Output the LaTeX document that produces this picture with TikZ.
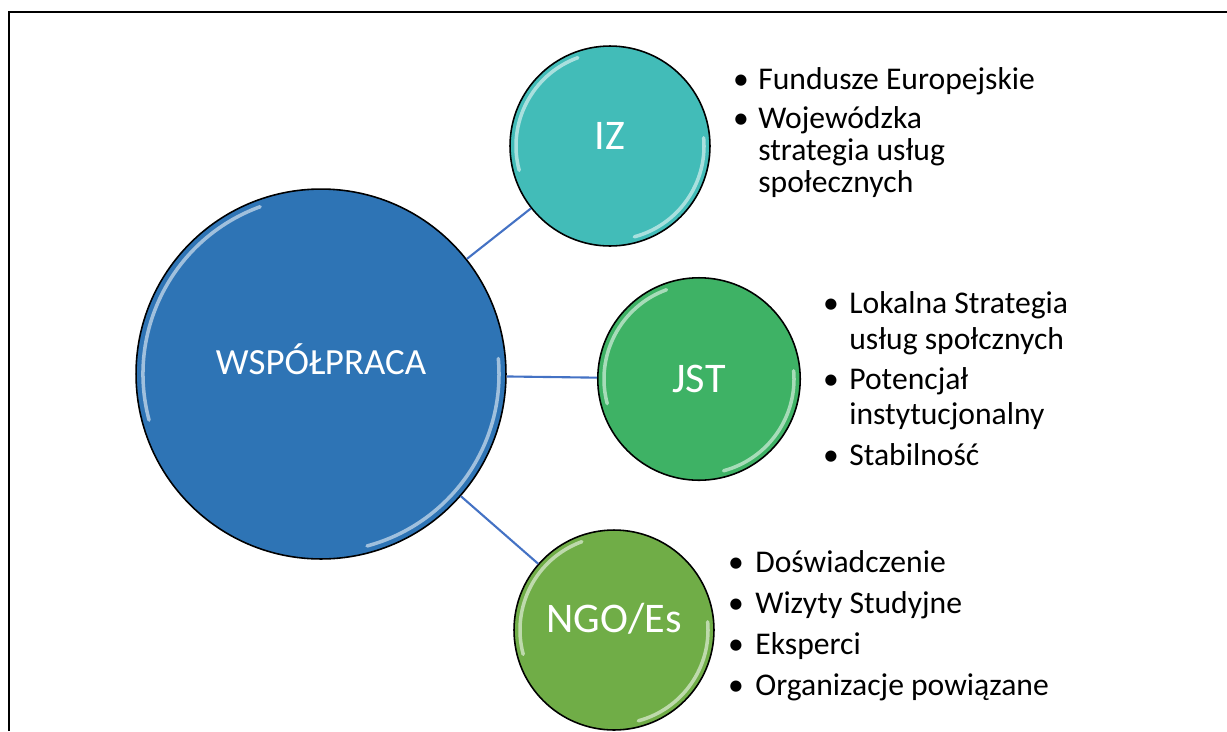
\documentclass[tikz,border=0pt]{standalone}
\usepackage{fontspec}
\setmainfont{Carlito}

\definecolor{wspBlue}{HTML}{2E74B5}
\definecolor{izTeal}{HTML}{42BCB8}
\definecolor{jstGreen}{HTML}{3EB265}
\definecolor{ngoGreen}{HTML}{70AD47}
\definecolor{lineBlue}{HTML}{4472C4}

\tikzset{
  kolo/.style={circle,draw=black,line width=0.9pt,inner sep=0pt},
  napis/.style={text=white,inner sep=0pt,font=\fontsize{24}{28}\selectfont},
  laczenie/.style={draw=lineBlue,line width=1.2pt},
  wiersz/.style={anchor=base west,inner sep=0pt,font=\fontsize{18}{22}\selectfont},
  kropka/.style={anchor=base,inner sep=0pt,font=\fontsize{18}{22}\selectfont},
  blask/.style={white,opacity=0.55,line width=2pt,line cap=round}
}

\begin{document}
\begin{tikzpicture}[x=0.02cm,y=-0.02cm]
\useasboundingbox (0,0) rectangle (1227,731);
\draw[line width=1.2pt] (9,731) -- (9,12) -- (1227,12);

% circles
\node[kolo,fill=wspBlue,minimum size=7.4cm,
  label={[napis,name=wspText,yshift=0.3cm,font=\fontsize{21}{25}\selectfont]center:WSPÓŁPRACA}]
  (wsp) at (321,374) {};
\node[kolo,fill=izTeal,minimum size=4cm,
  label={[napis,name=izText,yshift=0.2cm]center:IZ}] (iz) at (610,146) {};
\node[kolo,fill=jstGreen,minimum size=4.05cm,
  label={[napis,name=jstText]center:JST}] (jst) at (699,379) {};
\node[kolo,fill=ngoGreen,minimum size=4cm,
  label={[napis,name=ngoText,yshift=0.22cm]center:NGO/Es}] (ngo) at (614,630) {};

\draw[laczenie] (wsp) -- (iz);
\draw[laczenie] (wsp) -- (jst);
\draw[laczenie] (wsp) -- (ngo);

% glossy edges
\foreach \n/\r in {wsp/178,iz/94,jst/95,ngo/94}{
  \draw[blask] (\n.center) ++(110:{0.02*\r*1cm})
    arc[start angle=110,end angle=195,radius={0.02*\r*1cm}];
  \draw[blask] (\n.center) ++(285:{0.02*\r*1cm})
    arc[start angle=285,end angle=365,radius={0.02*\r*1cm}];
}

% IZ list
\node[kropka] (izb1) at (741,89) {•};
\node[wiersz] (iz1) at (758,89) {Fundusze Europejskie};
\node[kropka] (izb2) at (741,128) {•};
\node[wiersz] (iz2) at (758,128) {Wojewódzka};
\node[wiersz] (iz3) at (758,160) {strategia usług};
\node[wiersz] (iz4) at (758,192) {społecznych};

% JST list
\node[kropka] (jstb1) at (831,313) {•};
\node[wiersz] (jst1) at (849,313) {Lokalna Strategia};
\node[wiersz] (jst2) at (849,349) {usług społcznych};
\node[kropka] (jstb2) at (831,389) {•};
\node[wiersz] (jst3) at (849,389) {Potencjał};
\node[wiersz] (jst4) at (849,424) {instytucjonalny};
\node[kropka] (jstb3) at (831,465) {•};
\node[wiersz] (jst5) at (849,465) {Stabilność};

% NGO list
\node[kropka] (ngob1) at (736,572) {•};
\node[wiersz] (ngo1) at (755,572) {Doświadczenie};
\node[kropka] (ngob2) at (736,613) {•};
\node[wiersz] (ngo2) at (755,613) {Wizyty Studyjne};
\node[kropka] (ngob3) at (736,654) {•};
\node[wiersz] (ngo3) at (755,654) {Eksperci};
\node[kropka] (ngob4) at (736,695) {•};
\node[wiersz] (ngo4) at (755,695) {Organizacje powiązane};
\end{tikzpicture}
\end{document}
